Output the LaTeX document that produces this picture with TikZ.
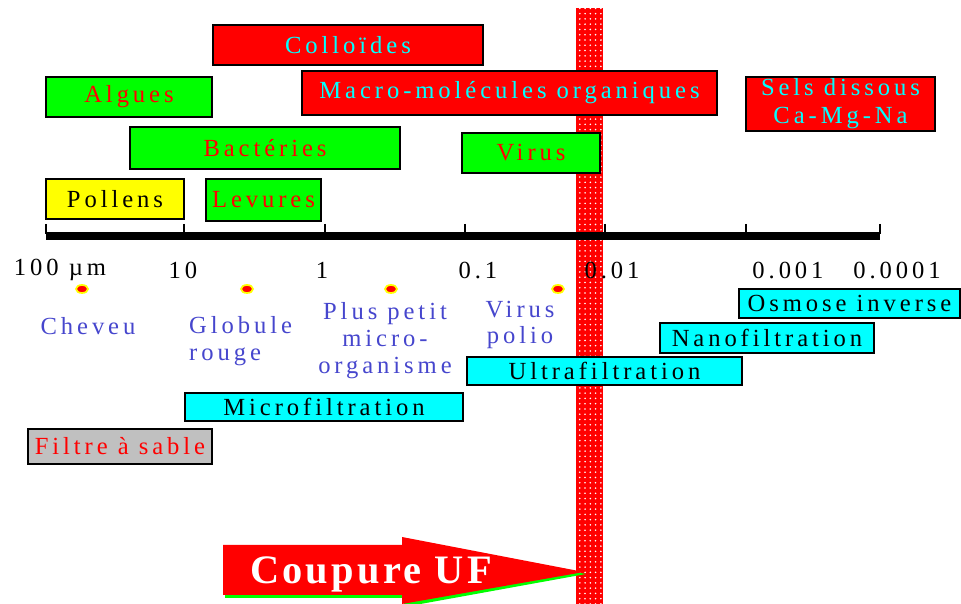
\documentclass[tikz,border=0pt]{standalone}
\usepackage{fontspec}
\setmainfont[LetterSpace=16]{Liberation Serif}
\usetikzlibrary{patterns}
\definecolor{labelblue}{RGB}{70,70,205}
\definecolor{sandgray}{RGB}{192,192,192}
\definecolor{boxcyan}{RGB}{0,255,255}
\definecolor{boxred}{RGB}{255,0,0}
\definecolor{boxgreen}{RGB}{0,255,0}
\definecolor{boxyellow}{RGB}{255,255,0}

\begin{document}
\begin{tikzpicture}[x=0.02cm, y=-0.02cm,
   box/.style={draw=black, line width=1.1pt, inner sep=0pt,
               font=\fontsize{14}{16}\selectfont},
   redbox/.style={box, fill=boxred, text=boxcyan},
   greenbox/.style={box, fill=boxgreen, text=boxred},
   filterbox/.style={box, fill=boxcyan, text=black},
   scalelabel/.style={font=\fontsize{14}{16}\selectfont},
   sizelabel/.style={text=labelblue, align=center,
               font=\fontsize{14}{15.3}\selectfont}]
   \useasboundingbox (0,0) rectangle (961,604);

   % UF cut-off band
   \node (band) [fill=boxred, postaction={pattern=dots, pattern color=white},
      inner sep=0pt, minimum width=0.54cm, minimum height=11.92cm] at (589.5,306) {};

   % particles
   \node (colloides) [redbox, minimum width=5.4cm, minimum height=0.8cm] at (348,45) {Colloïdes};
   \node (algues) [greenbox, minimum width=3.32cm, minimum height=0.8cm] at (129,97) {Algues};
   \node (macro) [redbox, minimum width=8.3cm, minimum height=0.88cm] at (509.5,93) {Macro-molécules organiques};
   \node (sels) [redbox, align=center, minimum width=3.78cm, minimum height=1.08cm] at (840.5,104) {Sels dissous\\Ca-Mg-Na};
   \node (bacteries) [greenbox, minimum width=5.4cm, minimum height=0.84cm] at (265,148) {Bactéries};
   \node (virus) [greenbox, minimum width=2.76cm, minimum height=0.8cm] at (531,153) {Virus};
   \node (pollens) [box, fill=boxyellow, minimum width=2.76cm, minimum height=0.8cm] at (115,199) {Pollens};
   \node (levures) [greenbox, minimum width=2.3cm, minimum height=0.84cm] at (263.5,200) {Levures};

   % size scale
   \coordinate (s0) at (46,236);
   \coordinate (s1) at (880,236);
   \draw[line width=4.5pt] (s0) -- (s1);
   \foreach \x in {46,184,325,465,605,746,880}
     \draw[line width=1pt] (\x,224) -- (\x,234);
   \foreach \x/\t [count=\i] in {60/100 µm, 183/10, 322/1, 478/0.1, 612/0.01, 788/0.001, 897/0.0001}
     \node (v\i) [scalelabel] at (\x,270) {\t};

   % reference sizes
   \foreach \x in {82,247,391,558}
     \filldraw[fill=boxred, draw=boxyellow, line width=1pt] (\x,289) ellipse (6 and 4);
   \node (cheveu) [sizelabel] at (88,326) {Cheveu};
   \node (globule) [sizelabel, align=left, anchor=west] at (183,341) {Globule\\rouge};
   \node (micro) [sizelabel] at (385,341) {Plus petit\\micro-\\organisme};
   \node (polio) [sizelabel] at (520,325) {Virus\\polio};

   % filtration processes
   \node (oi) [filterbox, minimum width=4.42cm, minimum height=0.58cm] at (849.5,303.5) {Osmose inverse};
   \node (nf) [filterbox, minimum width=4.28cm, minimum height=0.6cm] at (767,338) {Nanofiltration};
   \node (uf) [filterbox, minimum width=5.5cm, minimum height=0.56cm] at (604.5,371) {Ultrafiltration};
   \node (mf) [filterbox, minimum width=5.56cm, minimum height=0.56cm] at (324,407) {Microfiltration};
   \node (sable) [box, fill=sandgray, text=boxred, minimum width=3.68cm, minimum height=0.7cm] at (120,446.5) {Filtre à sable};

   % cut-off arrow
   \fill[boxgreen] (225,548) -- (404,548) -- (404,540) -- (586,574) -- (404,607) -- (404,598) -- (225,598) -- cycle;
   \fill[boxred] (223,545) -- (402,545) -- (402,537) -- (584,572) -- (402,604) -- (402,595) -- (223,595) -- cycle;
   \node (coupure) [text=white, font=\fontsize{23}{25}\selectfont\bfseries\addfontfeature{LetterSpace=8}] at (371,574) {Coupure UF};
\end{tikzpicture}
\end{document}
